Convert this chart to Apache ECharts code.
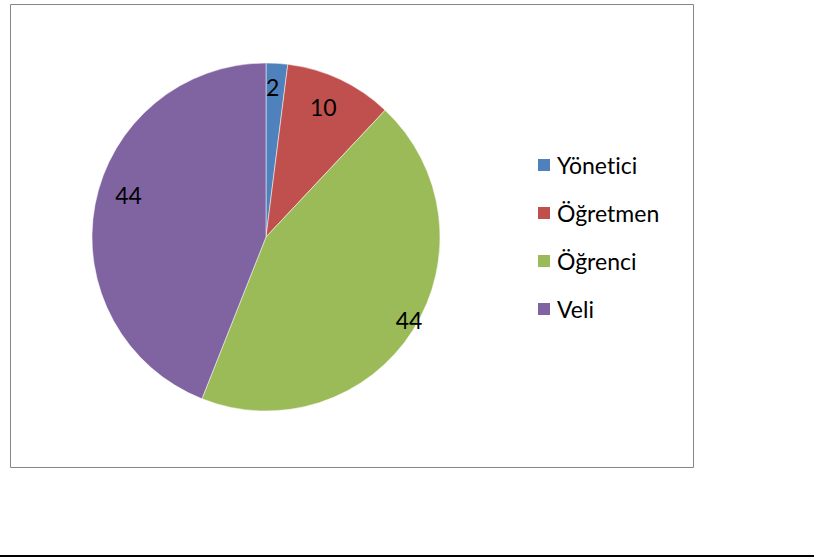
<!DOCTYPE html>
<html><head><meta charset="utf-8">
<script src="https://cdn.jsdelivr.net/npm/echarts@6/dist/echarts.min.js"></script>
<style>html,body{margin:0;padding:0;background:#fff}#c{width:814px;height:559px}#c text{font-variant-ligatures:none;font-feature-settings:"liga" 0,"clig" 0}</style>
</head><body><div id="c"></div>
<script>
const categories = ["Yönetici", "Öğretmen", "Öğrenci", "Veli"];
const values = [2, 10, 44, 44];
const colors = ["#4F81BD", "#C0504D", "#9BBB59", "#8064A2"];
const labelOffsets = [[1, -60], [19, -49], [67, 35], [-49, -25]];

const chart = echarts.init(document.getElementById('c'), null, {renderer: 'svg'});
const font = "Lato, 'Noto Sans', sans-serif";
chart.setOption({
  animation: false,
  graphic: [
    {type: 'rect', shape: {x: 10.5, y: 4.5, width: 683, height: 463}, style: {fill: 'none', stroke: '#868686', lineWidth: 1}},
    {type: 'line', shape: {x1: 0, y1: 556, x2: 814, y2: 556}, style: {stroke: '#000', lineWidth: 2}}
  ],
  legend: {
    orient: 'vertical', left: 536, top: 153, padding: 0,
    itemWidth: 14, itemHeight: 14, itemGap: 24,
    icon: 'rect',
    data: categories,
    textStyle: {fontFamily: font, fontSize: 23, color: '#000', lineHeight: 24, padding: [0, 0, 0, 1]}
  },
  series: [{
    type: 'pie',
    center: [266, 237], radius: 174,
    startAngle: 90, clockwise: true,
    data: categories.map((n, i) => ({
      name: n, value: values[i],
      itemStyle: {color: colors[i]},
      label: {offset: labelOffsets[i]}
    })),
    itemStyle: {borderColor: '#fff', borderWidth: 0.5},
    label: {show: true, position: 'inside', formatter: '{c}', fontFamily: font, fontSize: 23, color: '#000'},
    labelLine: {show: false},
    emphasis: {disabled: true}
  }]
});
</script></body></html>
